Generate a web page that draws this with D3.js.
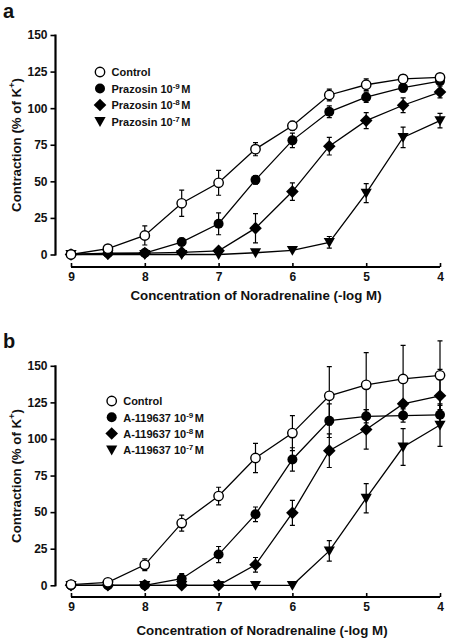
<!DOCTYPE html>
<html><head><meta charset="utf-8">
<script src="https://cdn.jsdelivr.net/npm/d3@7"></script>
<style>
body{margin:0;background:#fff;}
svg text{font-family:"Liberation Sans",Arial,sans-serif;font-weight:bold;fill:#111;}
</style></head>
<body><svg id="chart" width="451" height="640"></svg>
<script>
// ---- data ----
const concentrations = [9, 8.5, 8, 7.5, 7, 6.5, 6, 5.5, 5, 4.5, 4];
const xTicks = [9, 8, 7, 6, 5, 4];
const yTicks = [0, 25, 50, 75, 100, 125, 150];
const xTitle = "Concentration of Noradrenaline (-log M)";

// Panel a
const aControl     = [0, 4, 13, 35, 49, 72, 88, 109, 116, 120, 121];
const aControlErr  = [1, 1.5, 6.5, 9, 8.5, 4.5, 3, 4, 4, 3, 2.5];
const aPraz9       = [0, 1, 1, 8.5, 21, 51, 78, 97.5, 107.5, 114, 118.5];
const aPraz9Err    = [0, 0.5, 0.5, 2.5, 7.5, 3, 5, 4, 3.5, 3, 2];
const aPraz8       = [0, 0.5, 1, 1.5, 2.5, 18, 43, 74, 91.5, 102, 111];
const aPraz8Err    = [0, 0, 0.5, 1, 1, 10, 6, 6, 5.5, 5, 4];
const aPraz7       = [0, 0, 0, 0, 0, 1.2, 2.8, 8.3, 42, 80, 91.5];
const aPraz7Err    = [0, 0, 0, 0, 0, 0.5, 1, 4, 6.5, 7, 5];
const aLabels      = ["Control", "Prazosin 10", "Prazosin 10", "Prazosin 10"];
const aExponents   = [null, "-9", "-8", "-7"];

// Panel b
const bControl     = [0.5, 2, 14, 42.5, 61, 87, 104, 129.5, 137, 141, 143.5];
const bControlErr  = [0.5, 1, 4, 5.5, 6, 10, 12, 20, 22, 23, 23.5];
const bA9          = [0, 0, 0, 4.5, 21, 48.5, 86, 112.5, 115.5, 116, 116.5];
const bA9Err       = [0, 0, 0, 3.5, 5.5, 5, 8, 11.5, 4.5, 4.5, 6.5];
const bA8          = [0, 0, 0, 0, 0, 14, 49.5, 92, 106.5, 124, 129.5];
const bA8Err       = [0, 0, 0, 0, 0, 5, 8.5, 11.5, 13.5, 0, 18];
const bA7          = [0, 0, 0, 0, 0, 0, 0, 23.5, 59.5, 94.5, 109.5];
const bA7Err       = [0, 0, 0, 0, 0, 0, 0, 7, 10, 12.5, 14.5];
const bLabels      = ["Control", "A-119637 10", "A-119637 10", "A-119637 10"];
const bExponents   = [null, "-9", "-8", "-7"];

const markerTypes = ["open-circle", "circle", "diamond", "triangle"];

// ---- drawing ----
const svg = d3.select("#chart");
const FONT = '"Liberation Sans",Arial,sans-serif';

function drawMarker(sel, type) {
  sel.each(function() {
    const g = d3.select(this);
    if (type === "open-circle") {
      g.append("circle").attr("r", 4.7).attr("fill", "#fff").attr("stroke", "#000").attr("stroke-width", 1.4);
    } else if (type === "circle") {
      g.append("circle").attr("r", 5).attr("fill", "#000");
    } else if (type === "diamond") {
      g.append("path").attr("d", "M0,-6.3L6.3,0L0,6.3L-6.3,0Z").attr("fill", "#000");
    } else if (type === "triangle") {
      g.append("path").attr("d", "M-5.6,-4.4L5.6,-4.4L0,5.4Z").attr("fill", "#000");
    }
  });
}

function drawPanel(opts) {
  const x = d3.scaleLinear().domain([9, 4]).range([71, 440]);
  const y = d3.scaleLinear().domain([0, 150]).range([opts.y0, opts.y150]);
  const g = svg.append("g");

  // panel letter
  g.append("text").attr("x", 3).attr("y", opts.letterY).attr("font-size", 20).text(opts.letter);

  // y axis
  const yAxis = d3.axisLeft(y).tickValues(yTicks).tickSize(5).tickPadding(3).tickFormat(d3.format("d"));
  const ya = g.append("g").attr("transform", "translate(55.5,0)").call(yAxis);
  ya.select(".domain").attr("stroke-width", 2.2).attr("d", `M0,${opts.y150 - 0.5}V${opts.y0 + 1}`);
  ya.selectAll(".tick line").attr("stroke-width", 1.6);
  ya.selectAll(".tick text").attr("font-size", 12).style("font-family", FONT).style("font-weight", "bold").attr("fill", "#111");

  // x axis (ticks pointing up)
  const xAxis = d3.axisBottom(x).tickValues(xTicks).tickSize(-4).tickPadding(5).tickFormat(d3.format("d"));
  const xa = g.append("g").attr("transform", `translate(0,${opts.xAxisY})`).call(xAxis);
  xa.select(".domain").attr("stroke-width", 2.2).attr("d", `M${x(9)},0H${x(4)}`);
  xa.selectAll(".tick line").attr("stroke-width", 1.6);
  xa.selectAll(".tick text").attr("font-size", 12).style("font-family", FONT).style("font-weight", "bold").attr("fill", "#111");

  // axis titles
  g.append("text").attr("x", opts.xTitleX).attr("y", opts.xTitleY).attr("text-anchor", "middle")
    .attr("font-size", 13.3).text(xTitle);
  const yt = g.append("text").attr("transform", `translate(21,${opts.yTitleY}) rotate(-90)`)
    .attr("text-anchor", "middle").attr("font-size", 13.3);
  yt.append("tspan").text("Contraction (% of K");
  yt.append("tspan").attr("font-size", 9).attr("dy", -6).text("+");
  yt.append("tspan").attr("dy", 6).text(")");

  const seriesList = opts.series.map((s, i) => ({ values: s.values, errs: s.errs, type: markerTypes[i] }));
  const line = d3.line().x(d => x(d.c)).y(d => y(d.v));

  // lines
  seriesList.forEach(s => {
    const pts = concentrations.map((c, j) => ({ c, v: s.values[j] }));
    g.append("path").datum(pts).attr("d", line).attr("fill", "none").attr("stroke", "#000").attr("stroke-width", 1.3);
  });
  // error bars
  seriesList.forEach(s => {
    const pts = concentrations.map((c, j) => ({ c, v: s.values[j], e: s.errs[j] })).filter(d => d.e > 1.5);
    const eg = g.append("g").attr("stroke", "#000").attr("stroke-width", 1.2).attr("fill", "none");
    eg.selectAll("path").data(pts).join("path").attr("d", d => {
      const cx = x(d.c), yt2 = y(d.v + d.e), yb = y(d.v - d.e);
      return `M${cx},${yt2}V${yb}M${cx - 2.5},${yt2}H${cx + 2.5}M${cx - 2.5},${yb}H${cx + 2.5}`;
    });
  });
  // markers: control ends on top
  [3, 2, 1, 0].forEach(i => {
    const s = seriesList[i];
    const pts = concentrations.map((c, j) => ({ c, v: s.values[j] }));
    const mg = g.append("g").selectAll("g").data(pts).join("g")
      .attr("transform", d => `translate(${x(d.c)},${y(d.v)})`);
    drawMarker(mg, s.type);
  });

  // legend
  opts.labels.forEach((lab, i) => {
    const ly = opts.legendY[i];
    const mg = g.append("g").attr("transform", `translate(${opts.legendX},${ly})`);
    drawMarker(mg, markerTypes[i]);
    const t = g.append("text").attr("x", opts.legendX + 11.5).attr("y", ly + 4.2).attr("font-size", 11);
    t.append("tspan").text(lab);
    if (opts.exps[i]) {
      t.append("tspan").attr("font-size", 8).attr("dy", -4).text(opts.exps[i]);
      t.append("tspan").attr("dy", 4).attr("dx", 1.5).text("M");
    }
  });
}

drawPanel({
  letter: "a", letterY: 18,
  y0: 254.5, y150: 35, xAxisY: 267, xTitleX: 256, xTitleY: 300, yTitleY: 145,
  series: [
    { values: aControl, errs: aControlErr },
    { values: aPraz9, errs: aPraz9Err },
    { values: aPraz8, errs: aPraz8Err },
    { values: aPraz7, errs: aPraz7Err }
  ],
  labels: aLabels, exps: aExponents, legendX: 100, legendY: [72, 88.5, 105, 121.5]
});

drawPanel({
  letter: "b", letterY: 348,
  y0: 585.3, y150: 365.8, xAxisY: 597, xTitleX: 262, xTitleY: 635, yTitleY: 476,
  series: [
    { values: bControl, errs: bControlErr },
    { values: bA9, errs: bA9Err },
    { values: bA8, errs: bA8Err },
    { values: bA7, errs: bA7Err }
  ],
  labels: bLabels, exps: bExponents, legendX: 111.7, legendY: [401, 417.3, 433.5, 450]
});
</script></body></html>
